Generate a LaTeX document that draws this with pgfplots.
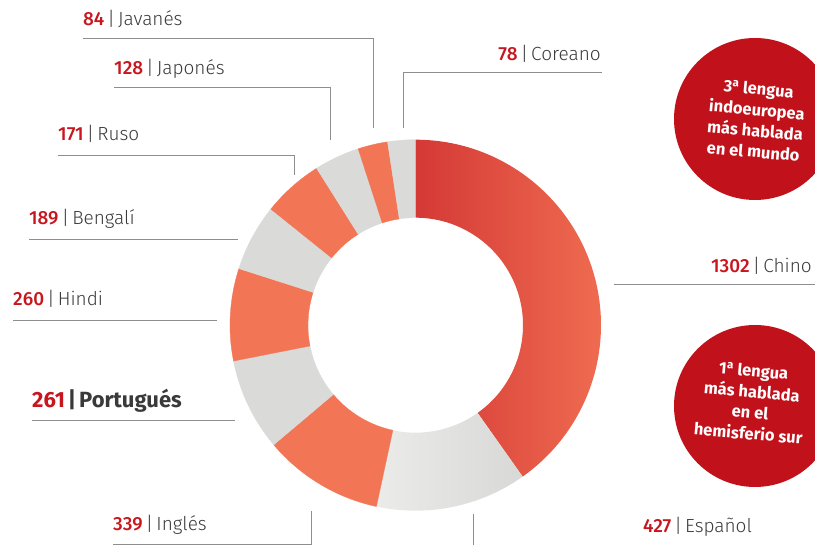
\documentclass[border=0pt]{standalone}
\usepackage{pgfplots}
\pgfplotsset{compat=1.18}
\usepackage{pgfplotstable}
\usepackage{fontspec}
\setmainfont{Fira Sans}
\newfontfamily\lightfont{Fira Sans Light}
\newfontfamily\medfont{Fira Sans Medium}
\definecolor{numred}{HTML}{C8161E}
\definecolor{namegray}{HTML}{3A3A3A}
\definecolor{linegray}{HTML}{8E8E8E}
\definecolor{orangeS}{HTML}{F27555}
\definecolor{greyS}{HTML}{DADAD8}
\definecolor{redA}{HTML}{D43935}
\definecolor{redM}{HTML}{E95F49}
\definecolor{redB}{HTML}{EF6B50}
\definecolor{greyA}{HTML}{EBEBEA}
\definecolor{greyB}{HTML}{D8D8D6}
\definecolor{circ}{HTML}{C1121C}
\colorlet{w2}{orangeS}\colorlet{w3}{greyS}\colorlet{w4}{orangeS}\colorlet{w5}{greyS}
\colorlet{w6}{orangeS}\colorlet{w7}{greyS}\colorlet{w8}{orangeS}\colorlet{w9}{greyS}

\pgfplotstableread{
lang value
Chino 1302
Espanol 427
Ingles 339
Portugues 261
Hindi 260
Bengali 189
Ruso 171
Japones 128
Javanes 84
Coreano 78
}\langdata

\def\cx{415.5}\def\cy{219.8}\def\Ro{185.5}\def\Ri{107.5}
\newcommand\getA[2]{\csname a#1#2\endcsname}
\newcommand\wedgefill[2]{\filldraw[fill=#2, draw=#2, line width=0.3pt] (axis cs:{\cx+\Ro*cos(\getA{S}{#1})},{\cy+\Ro*sin(\getA{S}{#1})}) arc[start angle=\getA{S}{#1}, end angle=\getA{E}{#1}, radius=\Ro pt] -- (axis cs:{\cx+\Ri*cos(\getA{E}{#1})},{\cy+\Ri*sin(\getA{E}{#1})}) arc[start angle=\getA{E}{#1}, end angle=\getA{S}{#1}, radius=\Ri pt] -- cycle;}
\newcommand\wedgeshade[4]{\shade[left color=#2, middle color=#3, right color=#4] (axis cs:{\cx+\Ro*cos(\getA{S}{#1})},{\cy+\Ro*sin(\getA{S}{#1})}) arc[start angle=\getA{S}{#1}, end angle=\getA{E}{#1}, radius=\Ro pt] -- (axis cs:{\cx+\Ri*cos(\getA{E}{#1})},{\cy+\Ri*sin(\getA{E}{#1})}) arc[start angle=\getA{E}{#1}, end angle=\getA{S}{#1}, radius=\Ri pt] -- cycle;}
\newcommand\lab[2]{{\medfont\color{numred}#1}\hspace{3pt}{\lightfont\color{namegray}|\hspace{3pt}#2}}

\begin{document}
\begin{tikzpicture}
\useasboundingbox (0,0) rectangle (815pt,545pt);
\pgfmathsetmacro\total{0}
\pgfplotsforeachungrouped \i in {0,...,9}{%
  \pgfplotstablegetelem{\i}{value}\of\langdata
  \pgfmathsetmacro\total{\total+\pgfplotsretval}%
}
\def\cum{0}
\pgfplotsforeachungrouped \i in {0,...,9}{%
  \pgfplotstablegetelem{\i}{value}\of\langdata
  \pgfmathsetmacro\aS{90-360*(\cum/\total)}%
  \pgfmathsetmacro\cum{\cum+\pgfplotsretval}%
  \pgfmathsetmacro\aE{90-360*(\cum/\total)}%
  \expandafter\xdef\csname aS\i\endcsname{\aS}%
  \expandafter\xdef\csname aE\i\endcsname{\aE}%
}
\begin{axis}[
  at={(0,0)}, anchor=south west,
  x=1pt, y=1pt, xmin=0, xmax=815, ymin=0, ymax=545,
  enlargelimits=false, hide axis, clip=false]
% donut
\wedgeshade{0}{redA}{redM}{redB}
\wedgeshade{1}{greyA}{greyS}{greyB}
\pgfplotsinvokeforeach{2,...,9}{\wedgefill{#1}{w#1}}
% leader lines
\draw[linegray, line width=0.8pt] (axis cs:83,507) -- (axis cs:373,507) -- (axis cs:373,417);
\draw[linegray, line width=0.8pt] (axis cs:114,458) -- (axis cs:330,458) -- (axis cs:330,405);
\draw[linegray, line width=0.8pt] (axis cs:58,390) -- (axis cs:294,390) -- (axis cs:294,370);
\draw[linegray, line width=0.8pt] (axis cs:602,473) -- (axis cs:403,473) -- (axis cs:403,417);
\draw[linegray, line width=0.8pt] (axis cs:29,306) -- (axis cs:238,306);
\draw[linegray, line width=0.8pt] (axis cs:13,225) -- (axis cs:217,225);
\draw[linegray, line width=0.8pt] (axis cs:32,125) -- (axis cs:235,125);
\draw[linegray, line width=0.8pt] (axis cs:614,261) -- (axis cs:815,261);
\draw[linegray, line width=0.8pt] (axis cs:113,1) -- (axis cs:311,1) -- (axis cs:311,34);
\draw[linegray, line width=0.8pt] (axis cs:473,0) -- (axis cs:473,31);
% labels
\begin{scope}[every node/.style={font=\fontsize{19}{22}\selectfont, inner sep=0pt}]
\node[anchor=base west] at (axis cs:83,519) {\lab{84}{Javanés}};
\node[anchor=base west] at (axis cs:114,470) {\lab{128}{Japonés}};
\node[anchor=base west] at (axis cs:58,404) {\lab{171}{Ruso}};
\node[anchor=base east] at (axis cs:601,484) {\lab{78}{Coreano}};
\node[anchor=base west] at (axis cs:29,320) {\lab{189}{Bengalí}};
\node[anchor=base west] at (axis cs:13,239) {\lab{260}{Hindi}};
\node[anchor=base east] at (axis cs:812,272) {\lab{1302}{Chino}};
\node[anchor=base west] at (axis cs:113,14) {\lab{339}{Inglés}};
\node[anchor=base west] at (axis cs:643,12) {\lab{427}{Español}};
\end{scope}
\node[anchor=base west, inner sep=0pt, font=\fontsize{22}{26}\selectfont\bfseries] at (axis cs:32,137)
  {{\color{numred}261}\hspace{3pt}{\color{namegray}|\hspace{3pt}Portugués}};
% red circles
\fill[circ] (axis cs:755,426) circle[radius=81pt];
\fill[circ] (axis cs:755,139) circle[radius=81pt];
\node[white, rotate=-5, align=center, inner sep=0pt, font=\fontsize{16.5}{21}\selectfont\bfseries] at (axis cs:756,425)
  {3\textsuperscript{a} lengua\\indoeuropea\\más hablada\\en el mundo};
\node[white, rotate=-5, align=center, inner sep=0pt, font=\fontsize{16.5}{21}\selectfont\bfseries] at (axis cs:751,143)
  {1\textsuperscript{a} lengua\\más hablada\\en el\\hemisferio sur};
\end{axis}
\end{tikzpicture}
\end{document}
